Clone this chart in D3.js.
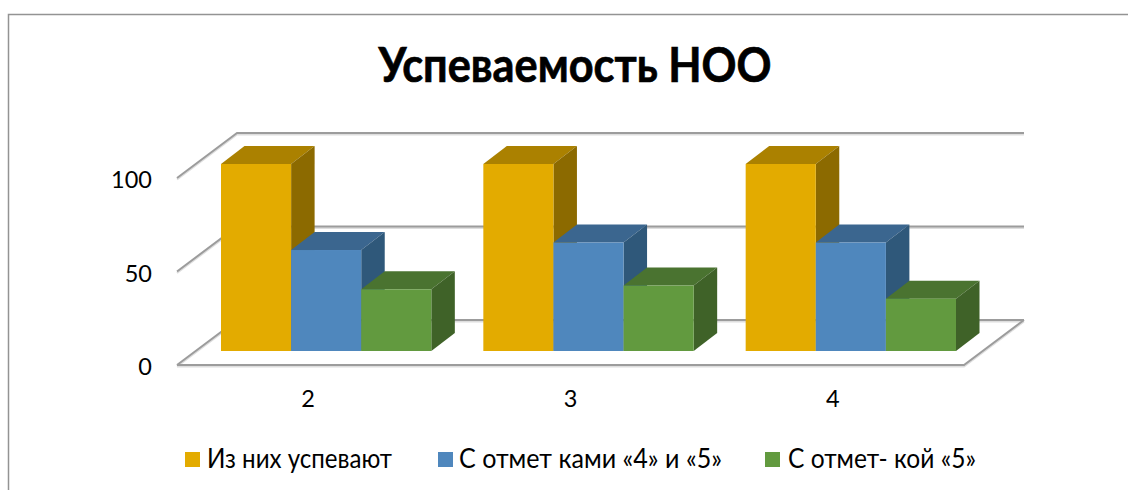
<!DOCTYPE html>
<html>
<head>
<meta charset="utf-8">
<script src="https://cdn.jsdelivr.net/npm/d3@7"></script>
<style>
  html, body { margin: 0; padding: 0; background: #fff; overflow: hidden; }
  text { font-family: Lato, "Open Sans", sans-serif; fill: #000; }
</style>
</head>
<body>
<script>
const categories = ['2', '3', '4'];
const seriesNames = ['Из них успевают', 'С отмет ками «4» и «5»', 'С отмет- кой «5»'];
const passing = [100, 100, 100];
const withFoursAndFives = [54, 58, 58];
const withFives = [33, 35, 28];
const yTicks = [0, 50, 100];

const allSeries = [passing, withFoursAndFives, withFives];
const faceColors = ['#e3ab00', '#4f87bd', '#629a3f'];
const topColors = ['#ab8100', '#3b668f', '#4a7330'];
const sideColors = ['#8c6a00', '#2f587a', '#3f6228'];

const width = 1128;
const height = 490;
const gridColor = '#9c9c9c';
const wallDepthX = 60;
const wallDepthY = 45;
const barDepthX = 23.5;
const barDepthY = 18;
const barLiftX = 18;
const barLiftY = 14;

const svg = d3.select('body')
              .append('svg')
              .attr('width', width)
              .attr('height', height)
              .style('display', 'block');

const x = d3.scaleBand().domain(categories).range([177, 964]);
const group = d3.scaleBand().domain(d3.range(allSeries.length))
                .paddingInner(0).paddingOuter(0);
group.range([26, x.bandwidth() - 26]);
const y = d3.scaleLinear().domain([0, 100]).range([365, 178]);

// outer frame, cut off by the picture on the right and bottom
svg.append('path')
   .attr('d', `M8.5,${height}V14.5H${width}`)
   .attr('fill', 'none')
   .attr('stroke', '#939393')
   .attr('stroke-width', 1.5);

svg.append('text')
   .attr('x', 575)
   .attr('y', 82)
   .attr('text-anchor', 'middle')
   .attr('font-size', 47)
   .attr('font-weight', 700)
   .attr('stroke', '#000')
   .attr('stroke-width', 0.7)
   .attr('textLength', 393)
   .attr('lengthAdjust', 'spacingAndGlyphs')
   .text('Успеваемость НОО');

// walls and floor
function gridLine(d, color, w) {
  svg.append('path')
     .attr('d', d)
     .attr('fill', 'none')
     .attr('stroke', color)
     .attr('stroke-width', w);
}

[1, 0].forEach(function(shadow) {
  const color = shadow ? '#dedede' : gridColor;
  yTicks.forEach(function(tick) {
    const yy = y(tick) + shadow * 1.5;
    gridLine(`M${x.range()[0]},${yy}l${wallDepthX},${-wallDepthY}H${x.range()[1] + wallDepthX}`, color, 2);
  });
  const yy = y(0) + shadow * 1.5;
  gridLine(`M${x.range()[0]},${yy}H${x.range()[1]}l${wallDepthX},${-wallDepthY}`, color, 2);
});

// bars, left to right so each one covers the side of the previous one
categories.forEach(function(category, i) {
  allSeries.forEach(function(values, s) {
    const bx = x(category) + group(s) + barLiftX;
    const bw = group.bandwidth();
    const top = y(values[i]) - barLiftY;
    const bottom = y(0) - barLiftY;
    const g = svg.append('g');
    g.append('path')
     .attr('d', `M${bx},${top}l${barDepthX},${-barDepthY}h${bw}l${-barDepthX},${barDepthY}z`)
     .attr('fill', topColors[s]);
    g.append('path')
     .attr('d', `M${bx + bw},${top}l${barDepthX},${-barDepthY}V${bottom - barDepthY}l${-barDepthX},${barDepthY}z`)
     .attr('fill', sideColors[s]);
    g.append('rect')
     .attr('x', bx)
     .attr('y', top)
     .attr('width', bw)
     .attr('height', bottom - top)
     .attr('fill', faceColors[s]);
  });
});

const yAxis = d3.axisLeft(y).tickValues(yTicks).tickSize(0).tickPadding(0);
svg.append('g')
   .attr('transform', 'translate(152,2)')
   .call(yAxis)
   .call(g => g.select('.domain').remove())
   .selectAll('text')
   .attr('font-size', 23.5)
   .style('font-family', 'Lato, "Open Sans", sans-serif')
   .style('fill', '#000');

const xAxis = d3.axisBottom(x).tickSize(0).tickPadding(0);
svg.append('g')
   .attr('transform', 'translate(0,390)')
   .call(xAxis)
   .call(g => g.select('.domain').remove())
   .selectAll('text')
   .attr('font-size', 23.5)
   .style('font-family', 'Lato, "Open Sans", sans-serif')
   .style('fill', '#000');

// legend
const legendSwatchX = [185, 438, 765];
const legendTextX = [207, 459, 788];
const legendTextWidth = [185, 263, 188];
seriesNames.forEach(function(name, s) {
  svg.append('rect')
     .attr('x', legendSwatchX[s])
     .attr('y', 452)
     .attr('width', 15)
     .attr('height', 15)
     .attr('fill', faceColors[s]);
  svg.append('text')
     .attr('x', legendTextX[s])
     .attr('y', 468)
     .attr('font-size', 27)
     .attr('textLength', legendTextWidth[s])
     .attr('lengthAdjust', 'spacingAndGlyphs')
     .text(name);
});
</script>
</body>
</html>
